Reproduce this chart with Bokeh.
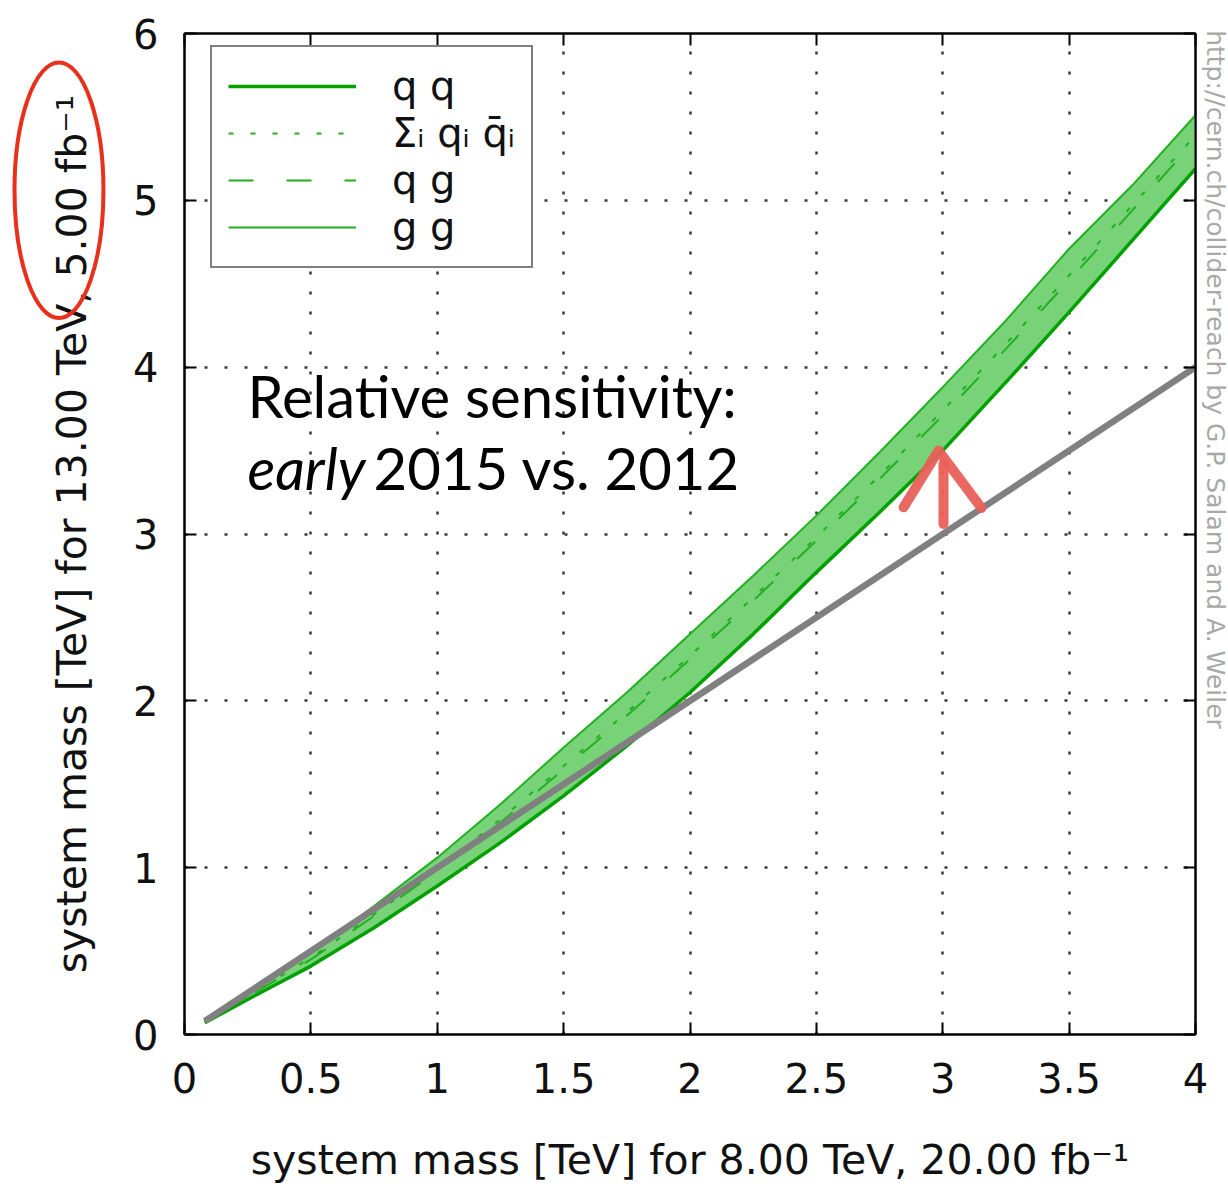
import math
from bokeh.plotting import figure
from bokeh.models import (Range1d, LinearAxis, FixedTicker, Legend, LegendItem, Label,
                          CustomLabelingPolicy)
from bokeh.core.properties import value
from bokeh.embed import file_html
from bokeh.resources import INLINE

# ---------------- data ----------------
x_mass = [0.08, 0.25, 0.5, 0.75, 1.0, 1.25, 1.5, 1.75, 2.0, 2.25, 2.5, 2.75,
          3.0, 3.25, 3.5, 3.75, 4.0]
qq = [0.07, 0.21, 0.41, 0.64, 0.89, 1.15, 1.43, 1.73, 2.05, 2.40, 2.77, 3.13,
      3.50, 3.91, 4.33, 4.76, 5.19]
qqbar = [0.08, 0.23, 0.46, 0.72, 0.99, 1.29, 1.61, 1.93, 2.27, 2.62, 2.98, 3.35,
         3.74, 4.14, 4.55, 4.97, 5.39]
qg = [0.075, 0.225, 0.45, 0.71, 0.98, 1.27, 1.59, 1.91, 2.25, 2.60, 2.96, 3.33,
      3.71, 4.11, 4.52, 4.94, 5.36]
gg = [0.08, 0.24, 0.49, 0.77, 1.06, 1.38, 1.72, 2.05, 2.40, 2.75, 3.11, 3.49,
      3.88, 4.28, 4.71, 5.09, 5.51]
ref_x = [0.08, 4.0]
ref_y = [0.08, 4.0]

x_ticks = [0, 0.5, 1, 1.5, 2, 2.5, 3, 3.5, 4]
x_tick_labels = ["0", "0.5", "1", "1.5", "2", "2.5", "3", "3.5", "4"]
y_ticks = [0, 1, 2, 3, 4, 5, 6]
y_tick_labels = ["0", "1", "2", "3", "4", "5", "6"]
legend_labels = ["q q", "Σᵢ qᵢ q̄ᵢ", "q g", "g g"]

x_title = "system mass [TeV] for 8.00 TeV, 20.00 fb⁻¹"
y_title = "system mass [TeV] for 13.00 TeV, 5.00 fb⁻¹"
note_line1 = "Relative sensitivity:"
note_early = "early"
note_line2 = "2015 vs. 2012"
credit = "http://cern.ch/collider-reach by G.P. Salam and A. Weiler"

# hand-drawn red arrow (data coordinates)
arrow_xs = [[3.003, 3.003], [2.845, 2.983, 3.153]]
arrow_ys = [[3.06, 3.42], [3.16, 3.50, 3.156]]

# ---------------- figure ----------------
FONT = "DejaVu Sans"
p = figure(width=1228, height=1186, x_range=Range1d(0, 4), y_range=Range1d(0, 6),
           output_backend="svg", toolbar_location=None,
           min_border_left=184, min_border_right=33, min_border_top=33,
           min_border_bottom=150)
p.background_fill_color = "white"
p.border_fill_color = "white"
p.outline_line_color = "black"
p.outline_line_width = 2

GREEN = "#00a000"
p.varea(x=x_mass, y1=qq, y2=gg, fill_color="#78d278", fill_alpha=1.0)
r_qq = p.line(x_mass, qq, line_color=GREEN, line_width=3.5)
r_qqbar = p.line(x_mass, qqbar, line_color="#20b020", line_width=2, line_dash="5 17")
r_qg = p.line(x_mass, qg, line_color="#20b020", line_width=2, line_dash="25 33")
r_gg = p.line(x_mass, gg, line_color="#20b020", line_width=2)
p.line(ref_x, ref_y, line_color="#808080", line_width=6.5)
p.multi_line(arrow_xs, arrow_ys, line_color="#e8605a", line_width=10,
             line_cap="round", line_join="round", line_alpha=0.95)

# axes
xt = FixedTicker(ticks=x_ticks)
yt = FixedTicker(ticks=y_ticks)
p.xaxis.ticker = xt
p.yaxis.ticker = yt
p.xgrid.ticker = xt
p.ygrid.ticker = yt
p.xaxis.major_label_overrides = dict(zip(x_ticks, x_tick_labels))
p.yaxis.major_label_overrides = dict(zip(y_ticks, y_tick_labels))

for ax in (p.xaxis[0], p.yaxis[0]):
    ax.major_tick_in = 12
    ax.major_tick_out = 0
    ax.minor_tick_in = 0
    ax.minor_tick_out = 0
    ax.axis_line_width = 2
    ax.major_tick_line_width = 2
    ax.major_label_text_font = FONT
    ax.major_label_text_font_size = "40px"
    ax.major_label_text_color = "#111111"
    ax.axis_label_text_font = FONT
    ax.axis_label_text_font_size = "41px"
    ax.axis_label_text_font_style = "normal"
    ax.axis_label_text_color = "#111111"

p.xaxis.axis_label = x_title
p.yaxis.axis_label = y_title
p.xaxis.major_label_standoff = 28
p.xaxis.axis_label_standoff = 40
p.yaxis.major_label_standoff = 26
p.yaxis.axis_label_standoff = 34

hide_all = CustomLabelingPolicy(code="""
    for (const i of indices) indices.unset(i)
    return indices
""")
right_ax = LinearAxis(ticker=yt, major_label_text_font_size="1px", major_label_standoff=0,
                      major_label_policy=hide_all,
                      major_tick_in=12, major_tick_out=0, minor_tick_in=0, minor_tick_out=0,
                      axis_line_width=2, major_tick_line_width=2)
top_ax = LinearAxis(ticker=xt, major_label_text_font_size="1px", major_label_standoff=0,
                    major_label_policy=hide_all,
                    major_tick_in=12, major_tick_out=0, minor_tick_in=0, minor_tick_out=0,
                    axis_line_width=2, major_tick_line_width=2)
p.add_layout(right_ax, "right")
p.add_layout(top_ax, "above")

for g in (p.xgrid[0], p.ygrid[0]):
    g.grid_line_color = "#222222"
    g.grid_line_dash = "3 17"
    g.grid_line_width = 2.5
    g.grid_line_alpha = 0.9

# legend
legend = Legend(items=[LegendItem(label=lab, renderers=[r]) for lab, r in
                       zip(legend_labels, [r_qq, r_qqbar, r_qg, r_gg])],
                location=(26, 766))
legend.border_line_color = "black"
legend.border_line_width = 2
legend.background_fill_color = "white"
legend.background_fill_alpha = 1.0
legend.label_text_font = FONT
legend.label_text_font_size = "40px"
legend.label_text_color = "#111111"
legend.glyph_width = 128
legend.glyph_height = 44
legend.label_height = 44
legend.spacing = 1
legend.padding = 16
legend.label_standoff = 36
legend.margin = 0
p.add_layout(legend, "center")

# annotations
p.add_layout(Label(x=0.249, y=3.833, text=note_line1, text_font="Lato",
                   text_font_size="58px", text_color="black", text_baseline="alphabetic"))
p.add_layout(Label(x=0.249, y=3.40, text=note_early, text_font="Lato",
                   text_font_style="italic", text_font_size="58px", text_color="black",
                   text_baseline="alphabetic"))
p.add_layout(Label(x=0.748, y=3.40, text=note_line2, text_font="Lato",
                   text_font_size="58px", text_color="black", text_baseline="alphabetic"))

# credit text at the right edge, outside the frame (overlay level, not clipped)
p.text(x=[4.078], y=[6.02], text=[credit], angle=-math.pi / 2,
       text_font=value(FONT), text_font_size="25px", text_color="#a8a8a8",
       text_align="left", text_baseline="alphabetic", level="overlay")

# red ellipse around the end of the y-axis title (outside the frame)
p.ellipse(x=[-0.4966], y=[5.06], width=[0.352], height=[1.532],
          fill_alpha=0, line_color="#e8301c", line_width=4, level="overlay")

open("out.html", "w").write(file_html(p, INLINE))
